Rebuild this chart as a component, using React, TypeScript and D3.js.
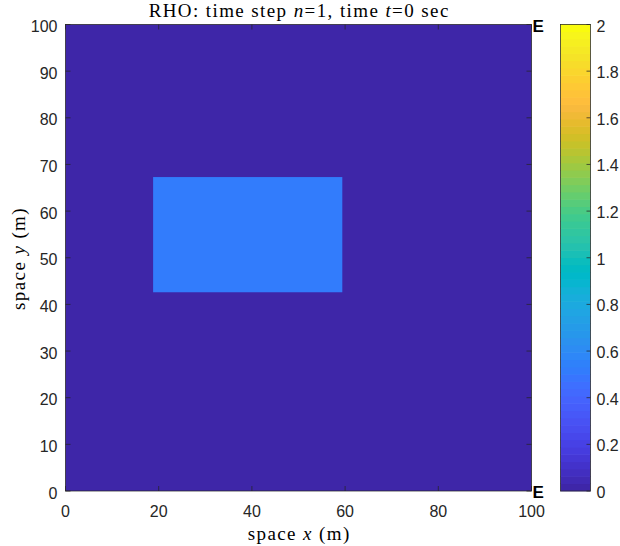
import React from "react";
import { scaleLinear, scaleQuantize, range } from "d3";

// field cells: [x0, x1] x [y0, y1] with density rho
const cellX0 = [0, 18.8];
const cellX1 = [100, 59.4];
const cellY0 = [0, 42.6];
const cellY1 = [100, 67.3];
const cellRho = [0, 0.5];

const xTicks = [0, 20, 40, 60, 80, 100];
const yTicks = [0, 10, 20, 30, 40, 50, 60, 70, 80, 90, 100];
const cTicks = [0, 0.2, 0.4, 0.6, 0.8, 1, 1.2, 1.4, 1.6, 1.8, 2];
const cLimits = [0, 2];

// boundary markers
const markX = [100, 100];
const markY = [100, 0];
const markText = ["E", "E"];

// MATLAB parula, 64 entries
const parula = [
  [0.2422, 0.1504, 0.6603], [0.2504, 0.165, 0.7076], [0.2578, 0.1818, 0.7511], [0.2647, 0.1978, 0.7952],
  [0.2706, 0.2147, 0.8364], [0.2751, 0.2342, 0.871], [0.2783, 0.2559, 0.8991], [0.2803, 0.2782, 0.9221],
  [0.2813, 0.3006, 0.9414], [0.281, 0.3228, 0.9579], [0.2795, 0.3447, 0.9717], [0.276, 0.3667, 0.9829],
  [0.2699, 0.3892, 0.9906], [0.2602, 0.4123, 0.9952], [0.244, 0.4358, 0.9988], [0.2206, 0.4603, 0.9973],
  [0.1963, 0.4847, 0.9892], [0.1834, 0.5074, 0.9798], [0.1786, 0.5289, 0.9682], [0.1764, 0.5499, 0.952],
  [0.1687, 0.5703, 0.9359], [0.154, 0.5902, 0.9218], [0.146, 0.6091, 0.9079], [0.138, 0.6276, 0.8973],
  [0.1248, 0.6459, 0.8883], [0.1113, 0.6635, 0.8763], [0.0952, 0.6798, 0.8598], [0.0689, 0.6948, 0.8394],
  [0.0297, 0.7082, 0.8163], [0.0036, 0.7203, 0.7917], [0.0067, 0.7312, 0.766], [0.0433, 0.7411, 0.7394],
  [0.0964, 0.75, 0.712], [0.1408, 0.7584, 0.6842], [0.1717, 0.767, 0.6554], [0.1938, 0.7758, 0.6251],
  [0.2161, 0.7843, 0.5923], [0.247, 0.7918, 0.5567], [0.2906, 0.7973, 0.5188], [0.3406, 0.8008, 0.4789],
  [0.3909, 0.8029, 0.4354], [0.4456, 0.8024, 0.3909], [0.5044, 0.7993, 0.348], [0.5616, 0.7942, 0.3045],
  [0.6174, 0.7876, 0.2612], [0.672, 0.7793, 0.2227], [0.7242, 0.7698, 0.191], [0.7738, 0.7598, 0.1646],
  [0.8203, 0.7498, 0.1535], [0.8634, 0.7406, 0.1596], [0.9035, 0.733, 0.1774], [0.9393, 0.7288, 0.21],
  [0.9728, 0.7298, 0.2394], [0.9956, 0.7434, 0.2371], [0.997, 0.7659, 0.2199], [0.9952, 0.7893, 0.2028],
  [0.9892, 0.8136, 0.1885], [0.9786, 0.8386, 0.1766], [0.9676, 0.8639, 0.1643], [0.961, 0.889, 0.1537],
  [0.9597, 0.9135, 0.1423], [0.9628, 0.9373, 0.1265], [0.9691, 0.9606, 0.1064], [0.9763, 0.9831, 0.0538],
].map(c => `rgb(${c.map(v => Math.round(v * 255)).join(",")})`);

const W = 620;
const H = 546;
const plot = { left: 65.5, right: 531.5, top: 24.5, bottom: 491 };
const cbar = { left: 560.5, right: 590.5 };
const axisColor = "#262626";
const tickLen = 5;
const sans = "'Liberation Sans', Arial, Helvetica, sans-serif";
const serif = "'Liberation Serif', 'Times New Roman', serif";
const labelSpacing = 1.4;

export default function App() {
  const x = scaleLinear().domain([0, 100]).range([plot.left, plot.right]);
  const y = scaleLinear().domain([0, 100]).range([plot.bottom, plot.top]);
  const c = scaleLinear().domain(cLimits).range([plot.bottom, plot.top]);
  const color = scaleQuantize<string>().domain(cLimits).range(parula);
  const step = (cLimits[1] - cLimits[0]) / parula.length;
  const bands = range(parula.length).map(i => cLimits[0] + i * step);
  const midX = (plot.left + plot.right) / 2;

  return (
    <svg width={W} height={H} style={{ position: "absolute", left: 0, top: 0, background: "#fff" }}>
      {/* field */}
      {cellRho.map((v, i) => (
        <rect key={i} x={x(cellX0[i])} y={y(cellY1[i])}
          width={x(cellX1[i]) - x(cellX0[i])} height={y(cellY0[i]) - y(cellY1[i])}
          fill={color(v)} />
      ))}

      {/* axes ticks */}
      <g stroke={axisColor} strokeWidth={0.75}>
        {xTicks.map(t => (
          <g key={"x" + t}>
            <line x1={x(t)} x2={x(t)} y1={plot.bottom} y2={plot.bottom - tickLen} />
            <line x1={x(t)} x2={x(t)} y1={plot.top} y2={plot.top + tickLen} />
          </g>
        ))}
        {yTicks.map(t => (
          <g key={"y" + t}>
            <line x1={plot.left} x2={plot.left + tickLen} y1={y(t)} y2={y(t)} />
            <line x1={plot.right} x2={plot.right - tickLen} y1={y(t)} y2={y(t)} />
          </g>
        ))}
      </g>
      <rect x={plot.left} y={plot.top} width={plot.right - plot.left} height={plot.bottom - plot.top}
        fill="none" stroke={axisColor} strokeWidth={0.75} />

      <g fontFamily={sans} fontSize={16} fill={axisColor}>
        {xTicks.map(t => (
          <text key={"xl" + t} x={x(t)} y={plot.bottom + 26} textAnchor="middle">{t}</text>
        ))}
        {yTicks.map(t => (
          <text key={"yl" + t} x={plot.left - 8} y={y(t) + 7.5} textAnchor="end">{t}</text>
        ))}
      </g>

      {/* boundary markers */}
      {markText.map((s, i) => (
        <text key={"m" + i} x={x(markX[i]) + 1} y={y(markY[i]) + 7} fontFamily={sans}
          fontWeight="bold" fontSize={17} fill="#000">{s}</text>
      ))}

      {/* labels */}
      <text x={midX + labelSpacing / 2} y={16.8} textAnchor="middle" fontFamily={serif} fontSize={19}
        letterSpacing={labelSpacing} fill="#000">
        RHO: time step <tspan fontStyle="italic">n</tspan>=1, time <tspan fontStyle="italic">t</tspan>=0 sec
      </text>
      <text x={midX + labelSpacing / 2} y={540} textAnchor="middle" fontFamily={serif} fontSize={19}
        letterSpacing={labelSpacing} fill="#000">
        space <tspan fontStyle="italic">x</tspan> (m)
      </text>
      <text transform={`translate(25,${(plot.top + plot.bottom) / 2 + labelSpacing / 2}) rotate(-90)`}
        textAnchor="middle" fontFamily={serif} fontSize={19} letterSpacing={labelSpacing} fill="#000">
        space <tspan fontStyle="italic">y</tspan> (m)
      </text>

      {/* colorbar */}
      {bands.map((b, i) => (
        <rect key={"cb" + i} x={cbar.left} y={c(b + step) - 0.3} width={cbar.right - cbar.left}
          height={c(b) - c(b + step) + 0.6} fill={parula[i]} />
      ))}
      <g stroke={axisColor} strokeWidth={0.75}>
        {cTicks.map(t => (
          <line key={"ct" + t} x1={cbar.right} x2={cbar.right - 4} y1={c(t)} y2={c(t)} />
        ))}
      </g>
      <rect x={cbar.left} y={plot.top} width={cbar.right - cbar.left} height={plot.bottom - plot.top}
        fill="none" stroke={axisColor} strokeWidth={0.75} />
      <g fontFamily={sans} fontSize={16} fill={axisColor}>
        {cTicks.map(t => (
          <text key={"cl" + t} x={cbar.right + 6} y={c(t) + 7}>{t}</text>
        ))}
      </g>
    </svg>
  );
}
